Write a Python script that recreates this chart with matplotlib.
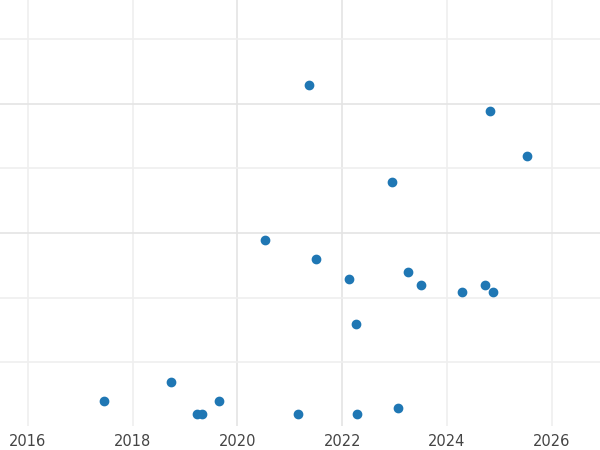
import matplotlib
matplotlib.use('Agg')
import matplotlib.pyplot as plt

years = [2017.45, 2018.73, 2019.23, 2019.32, 2019.65, 2020.52, 2021.15, 2021.36,
         2021.50, 2022.13, 2022.26, 2022.28, 2022.95, 2023.06, 2023.25, 2023.50,
         2024.28, 2024.72, 2024.82, 2024.87, 2025.52]
values = [0.40, 0.69, 0.19, 0.19, 0.40, 2.89, 0.19, 5.29,
          2.60, 2.29, 1.59, 0.19, 3.79, 0.29, 2.40, 2.19,
          2.09, 2.19, 4.89, 2.09, 4.19]
x_ticks = [2016, 2018, 2020, 2022, 2024, 2026]

fig = plt.figure(figsize=(6, 4.5), dpi=100)
ax = fig.add_axes([0, 0.053, 1, 0.947])
ax.set_xlim(2015.47, 2026.92)
ax.set_ylim(0.008, 6.61)

for x in x_ticks:
    ax.axvline(x, color='#e4e4e4' if x in (2020, 2022) else '#efefef', lw=1.2, zorder=0)
for y in [1, 2, 3, 4, 5, 6]:
    ax.axhline(y, color='#e4e4e4' if y in (3, 5) else '#efefef', lw=1.2, zorder=0)

ax.scatter(years, values, s=36, color='#1f77b4', zorder=3)

ax.set_xticks(x_ticks)
ax.set_xticklabels([str(x) for x in x_ticks], fontsize=10.5, color='#444444')
ax.set_yticks([])
ax.tick_params(axis='x', length=0, pad=6)
for s in ax.spines.values():
    s.set_visible(False)

fig.savefig('out.png')
